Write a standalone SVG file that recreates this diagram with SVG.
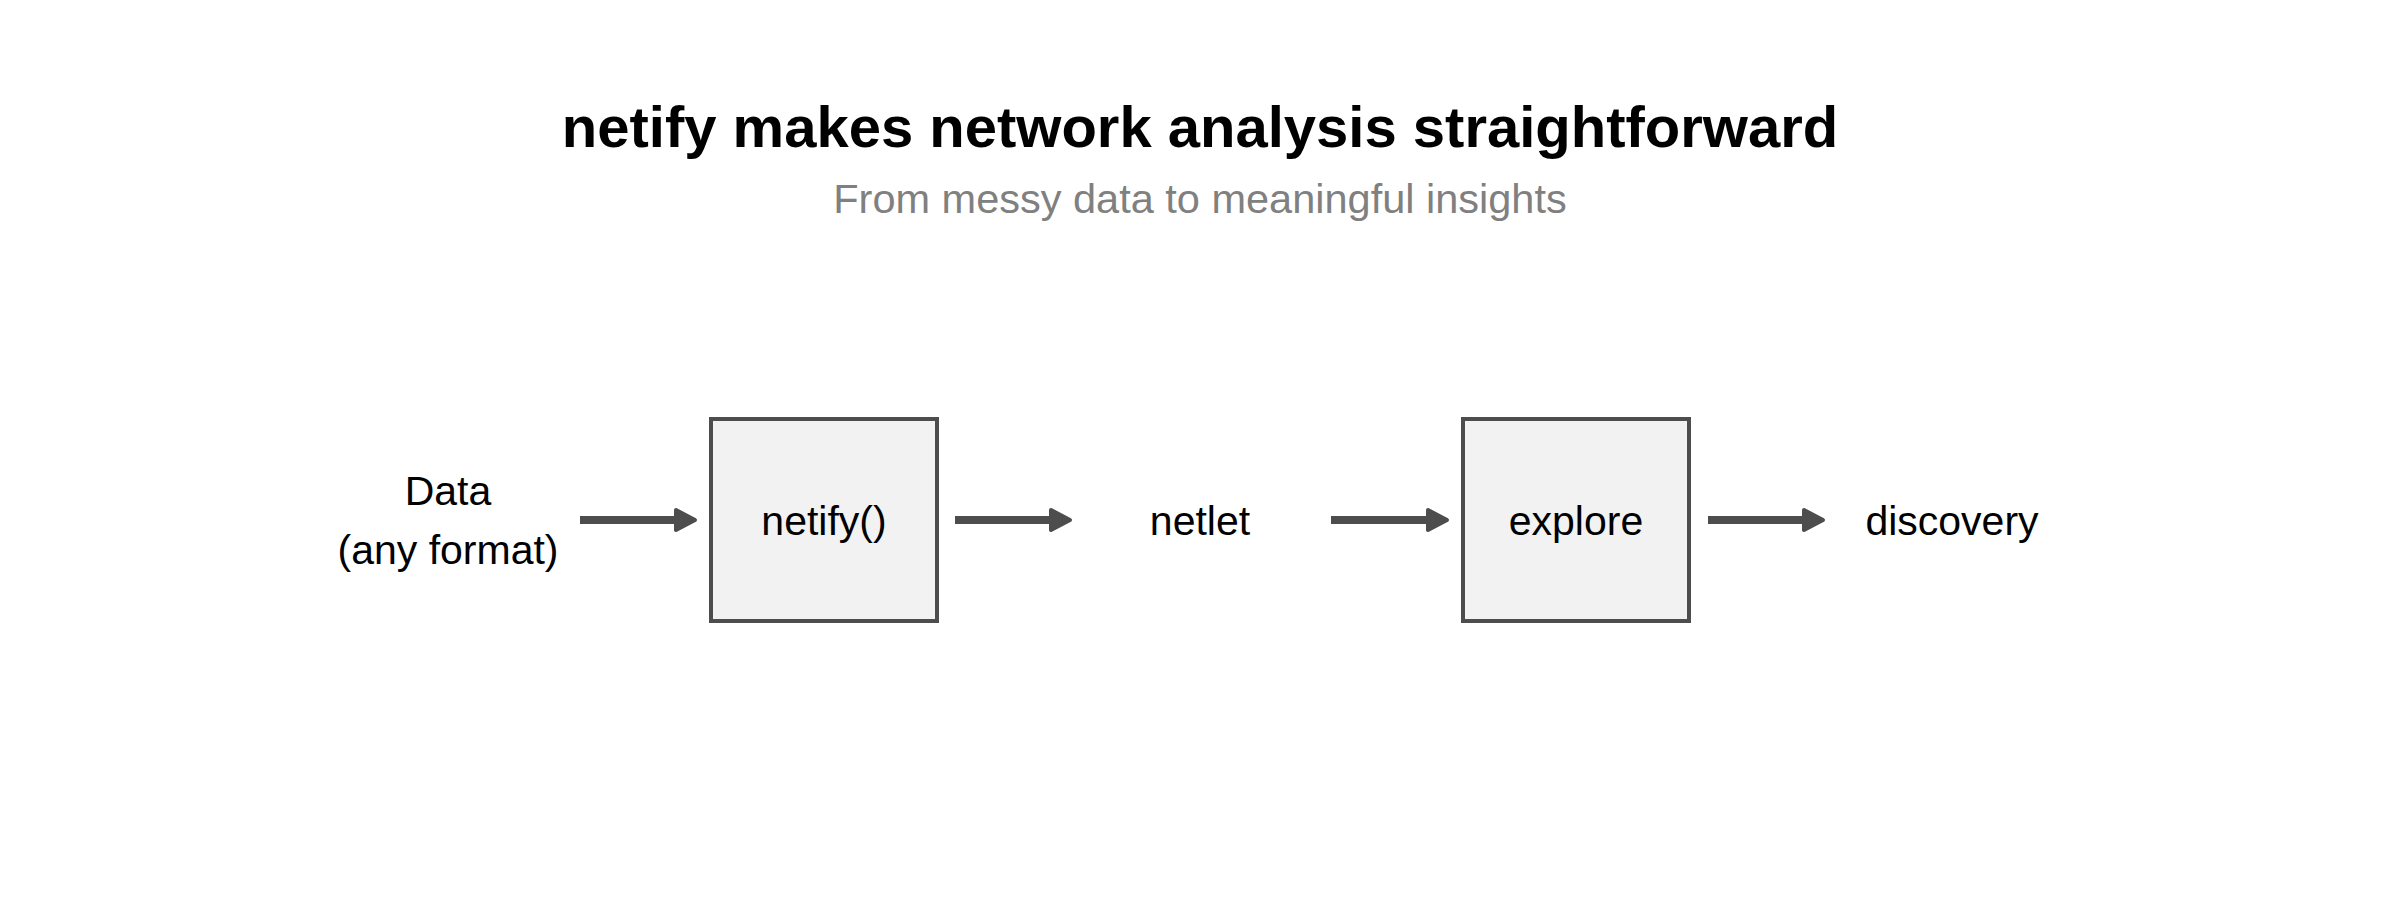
<svg xmlns="http://www.w3.org/2000/svg" width="2400" height="900" viewBox="0 0 2400 900">
  <style>
    .title { font-family: "Liberation Sans", Arial, sans-serif; font-weight: bold; font-size: 58px; fill: #000000; text-anchor: middle; }
    .subtitle { font-family: "Liberation Sans", Arial, sans-serif; font-size: 41.5px; fill: #808080; text-anchor: middle; }
    .label { font-family: "Liberation Sans", Arial, sans-serif; font-size: 41px; fill: #000000; text-anchor: middle; }
    .box { fill: #f2f2f2; stroke: #4d4d4d; stroke-width: 4; }
    .shaft { stroke: #4d4d4d; stroke-width: 8; fill: none; }
    .head { fill: #4d4d4d; stroke: #4d4d4d; stroke-width: 4; stroke-linejoin: round; }
  </style>
  <rect width="2400" height="900" fill="#ffffff"/>
  <g id="title">
    <text class="title" x="1200" y="147">netify makes network analysis straightforward</text>
    <text class="subtitle" x="1200" y="213">From messy data to meaningful insights</text>
  </g>
  <g id="node-data">
    <text class="label" x="448" y="505">Data</text>
    <text class="label" x="448" y="564">(any format)</text>
  </g>
  <g id="node-netify">
    <rect class="box" x="711" y="419" width="226" height="202"/>
    <text class="label" x="824" y="535">netify()</text>
  </g>
  <g id="node-netlet">
    <text class="label" x="1200" y="535">netlet</text>
  </g>
  <g id="node-explore">
    <rect class="box" x="1463" y="419" width="226" height="202"/>
    <text class="label" x="1576" y="535">explore</text>
  </g>
  <g id="node-discovery">
    <text class="label" x="1952" y="535">discovery</text>
  </g>
  <g id="connectors">
    <line class="shaft" x1="580" y1="520" x2="680" y2="520"/>
    <polygon class="head" points="676,510 695,520 676,530"/>
    <line class="shaft" x1="955" y1="520" x2="1055" y2="520"/>
    <polygon class="head" points="1051,510 1070,520 1051,530"/>
    <line class="shaft" x1="1331" y1="520" x2="1432" y2="520"/>
    <polygon class="head" points="1428,510 1447,520 1428,530"/>
    <line class="shaft" x1="1708" y1="520" x2="1808" y2="520"/>
    <polygon class="head" points="1804,510 1823,520 1804,530"/>
  </g>
</svg>
